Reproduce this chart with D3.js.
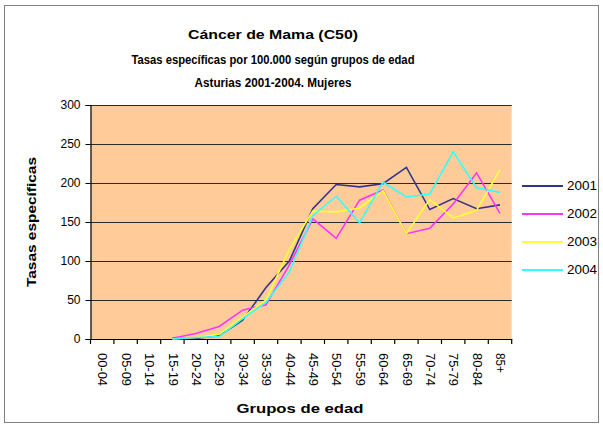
<!DOCTYPE html>
<html><head><meta charset="utf-8">
<script src="https://cdn.jsdelivr.net/npm/d3@7"></script>
<style>
html,body{margin:0;padding:0;background:#fff;}
svg{display:block;font-family:"Liberation Sans",Arial,sans-serif;}
</style></head>
<body>
<svg id="c" width="603" height="425"></svg>
<script>
const categories = ["00-04","05-09","10-14","15-19","20-24","25-29","30-34","35-39","40-44","45-49","50-54","55-59","60-64","65-69","70-74","75-79","80-84","85+"];
const years = ["2001","2002","2003","2004"];
const s2001 = [null,null,null,1,1,4,24,66,100,167,198,195,199,220,166,180,167,172];
const s2002 = [null,null,null,1,7,16,37,44,95,154,129,178,191,135,142,173,213,161];
const s2003 = [null,null,null,0,2,6,28,50,115,164,163,168,190,135,179,155,165,217];
const s2004 = [null,null,null,0,2,3,26,47,86,158,183,149,201,182,186,240,194,188];
const yTicks = [0,50,100,150,200,250,300];
const colors = ["#34348c","#ff33ff","#ffff33","#33ffff"];
const seriesList = [s2001,s2002,s2003,s2004];

const svg = d3.select("#c");
const L=90.5, R=511.7, T=105, B=339;

svg.append("rect").attr("x",4.5).attr("y",5.5).attr("width",594).attr("height",417)
  .attr("fill","#fff").attr("stroke","#808080").attr("stroke-width",1);

const x = d3.scaleBand().domain(categories).range([L,R]);
const y = d3.scaleLinear().domain([0,300]).range([B,T]);

svg.append("rect").attr("x",L).attr("y",T).attr("width",R-L).attr("height",B-T).attr("fill","#ffcc99");

// gridlines
svg.append("g").selectAll("line").data(yTicks.filter(d=>d>0)).join("line")
  .attr("x1",L).attr("x2",R).attr("y1",d=>Math.round(y(d))+0.5).attr("y2",d=>Math.round(y(d))+0.5)
  .attr("stroke","#2a2a2a").attr("stroke-width",1.2);

// y axis
const yAxis = d3.axisLeft(y).tickValues(yTicks).tickSize(5).tickPadding(5);
const gy = svg.append("g").attr("transform",`translate(${L},0)`).call(yAxis);
gy.select(".domain").attr("stroke","#000").attr("stroke-width",1.2);
gy.selectAll(".tick line").attr("stroke","#000");
gy.selectAll("text").attr("font-size",12).attr("fill","#000").attr("font-family","'Liberation Sans Narrow','Liberation Sans',Arial,sans-serif");

// x axis
const xAxis = d3.axisBottom(x).tickSize(0).tickFormat("");
const gx = svg.append("g").attr("transform",`translate(0,${B})`).call(xAxis);
gx.select(".domain").attr("stroke","#000").attr("stroke-width",1.2);
// category boundary ticks
const bounds = categories.map(c=>x(c)).concat([R]);
svg.append("g").selectAll("line").data(bounds).join("line")
  .attr("x1",d=>d).attr("x2",d=>d).attr("y1",B).attr("y2",B+5).attr("stroke","#000").attr("stroke-width",1.2);
// rotated labels
svg.append("g").selectAll("text").data(categories).join("text")
  .attr("transform",d=>`translate(${x(d)+x.bandwidth()/2+0.5},${B+14}) rotate(90)`)
  .attr("dy","0.35em").attr("font-size",12).attr("fill","#000")
  .attr("textLength",d=>d.length===5?33:20).attr("lengthAdjust","spacingAndGlyphs")
  .text(d=>d);

// lines
const line = d3.line().defined(d=>d.v!==null)
  .x(d=>x(d.c)+x.bandwidth()/2).y(d=>y(d.v));
seriesList.forEach((s,i)=>{
  svg.append("path").datum(s.map((v,j)=>({c:categories[j],v})))
    .attr("d",line).attr("fill","none").attr("stroke",colors[i]).attr("stroke-width",1.6);
});

// titles
const titles = [["Cáncer de Mama (C50)",39,170],["Tasas específicas por 100.000 según grupos de edad",64,283],["Asturias 2001-2004. Mujeres",87,157]];
titles.forEach(t=>{
  svg.append("text").attr("x",273).attr("y",t[1]).attr("text-anchor","middle")
    .attr("font-size",12.5).attr("font-weight","bold").attr("textLength",t[2]).attr("lengthAdjust","spacingAndGlyphs")
    .text(t[0]);
});
svg.append("text").attr("transform","translate(36,222) rotate(-90)").attr("text-anchor","middle")
  .attr("font-size",12.5).attr("font-weight","bold").attr("textLength",130).attr("lengthAdjust","spacingAndGlyphs")
  .text("Tasas específicas");
svg.append("text").attr("x",300).attr("y",413).attr("text-anchor","middle")
  .attr("font-size",13).attr("font-weight","bold").attr("textLength",127).attr("lengthAdjust","spacingAndGlyphs")
  .text("Grupos de edad");

// legend
const leg = svg.append("g");
years.forEach((yr,i)=>{
  const yy = 186 + i*28;
  leg.append("line").attr("x1",522).attr("x2",563).attr("y1",yy).attr("y2",yy)
    .attr("stroke",colors[i]).attr("stroke-width",2);
  leg.append("text").attr("x",567).attr("y",yy).attr("dy","0.35em").attr("font-size",12.5)
    .attr("textLength",30).attr("lengthAdjust","spacingAndGlyphs").text(yr);
});
</script>
</body></html>
